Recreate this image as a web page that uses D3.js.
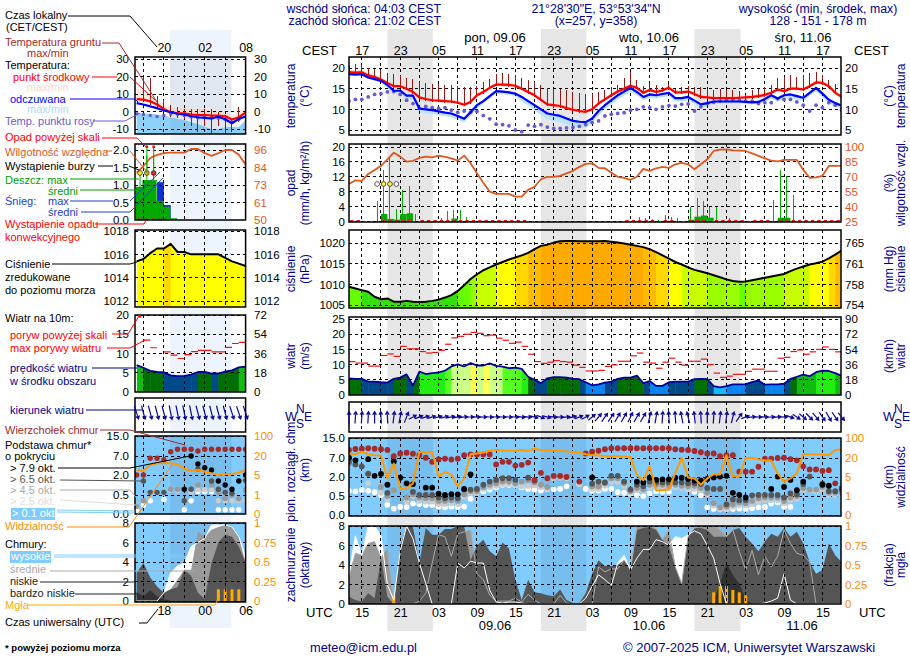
<!DOCTYPE html>
<html>
<head>
<meta charset="utf-8">
<script src="https://cdnjs.cloudflare.com/ajax/libs/d3/7.8.5/d3.min.js"></script>
<style>
body { margin: 0; background: #fff; }
text { font-family: "Liberation Sans", Arial, sans-serif; }
</style>
</head>
<body>
<div id="chart"></div>
<script>
// ---------- main meteogram data, one value per hour (h0 = 15 CEST 08.06) ----------
var tempMid = [19,18.9,19,18.2,17.8,17.2,16.4,15.6,15.6,15,
  14.2,12.9,12.5,12.2,12.1,12,11.9,11.6,11.1,11.8,
  13.4,14.2,15.2,16,16,15.9,15.7,15,14.2,13.4,
  12.3,11.2,11,10.8,10.3,9.9,9.6,9.4,10,11.4,
  12.4,13.4,14.3,15,15.7,15.2,14,14.7,14.2,14.6,
  15.2,14.1,14.1,14.3,13.7,13,12.9,12.7,12.7,12.7,
  12.7,12.8,12.9,13,13.2,13.5,14,14.8,14.4,15,
  15,14.8,15.6,16.5,16.4,15.6,14,13];
var tempFelt = [18.5,18.4,18.5,17.7,17.3,16.9,15.9,14.5,14.5,13.3,
  13.3,10.2,10,9.8,9.5,9.2,9,8.4,7.7,9.3,
  11,12,13.2,14.4,14.3,14.1,13.8,13,12,11,
  10,9,8.7,8.4,7.8,7.2,7,6.9,7.8,9.6,
  11,12.2,13.4,14.3,15.2,14.2,13,13.6,13.4,13.7,
  14,12.7,12.7,13,12.1,11.2,11.5,11.9,11.9,11.9,
  11.9,11.9,11.8,11.7,11.8,12.5,13.4,12.6,13.4,13.6,
  13.2,12.8,14,15.2,13.8,12.3,11.5,10.9];
var feltSpread = [.3,.3,.3,.3,.3,.3,.8,.8,.8,.8,
  .9,.9,.9,.9,.9,.9,.9,.9,.9,.9,
  .9,.6,.6,.6,.6,.6,.6,1.1,1.1,1.2,
  1.3,1.4,1.5,1.5,1.5,1.5,1.4,1.3,1.2,1.1,
  1,1,1,1,1,.8,.8,.8,.8,.8,
  .8,.8,.8,.8,.8,.8,.8,.5,.5,.5,
  .5,.5,.5,.5,.5,.8,.8,.8,.8,.8,
  .8,.8,.8,.8,.8,.8,.8,.8];
var soilMax = [20.5,21,20.8,20,19.7,19.4,18.8,18.5,18,17.5,
  17.3,16.5,16.4,16.2,16.1,16,15.8,15.6,15.5,15.5,
  15.6,16.5,17.3,18.5,18.8,18.6,18.3,17.5,17,16.5,
  16,15.2,15,14.8,14.6,14.2,14,13.8,13.7,14.2,
  14.6,15.3,16,17.5,19,17,15.6,16.2,16,15.4,
  16.2,15,15.3,15.6,15.3,15.3,15,14.6,14.8,14.6,
  14.6,14.4,13.5,14.6,14.8,15.4,16,17.5,17.8,18.3,
  17.8,18.3,18.7,19,18.3,17,16.2,13];
var dewPoint = [12,12.4,12.4,13,13.6,13.8,14.2,14.3,13.6,12.2,
  11.4,10.2,10.7,10.4,10.2,10.4,9.8,9.3,9.6,9.3,
  9.5,8.5,7.7,6.4,6.3,6,5,4.6,6.2,5.9,
  6.3,5.7,5.4,5.4,5.5,5.6,5.9,6.3,6.8,7.2,
  8.4,8.8,9,9.2,9.8,10,10.6,10.4,10,10.6,
  10.9,10.8,11.2,11.3,9.6,10.6,11.4,11.7,12,12.2,
  12.4,12.2,12,12,11.4,11.6,11.6,12.6,12.4,12.4,
  11.8,11,9.6,11,10.4,11.6,11,9.8];
var humidity = [62.8,66.5,65.8,72.9,76.9,81,87.6,94.3,90.3,85.3,
  86,89,90.3,89.6,91.3,90,88.6,86.3,91.3,83.6,
  73.5,64,55,52.8,52.8,52.8,50,50,56.8,60,
  67.5,70,70,71,73.5,76,80,83,83.6,79,
  78.6,74,70,69,67,70,78,76,78.6,80,
  79,82.6,84,82.6,77.6,82.6,87.6,96,97.3,97.6,
  96.6,96.3,96,93.6,91,88.6,86.3,85.6,87,87,
  87,77,69,69.5,71,81,81,81];
var rainMax = [0,0,0,0,5.4,13.8,17.4,3.3,8.5,9.4,
  2,0,0,.5,1,2.7,3,3,1.3,0,
  0,0,0,0,0,0,0,0,0,0,
  0,0,0,0,0,0,0,0,0,0,
  0,0,0,0,0,1.1,.9,.7,.5,1.7,
  1.3,1,0,3.8,6.2,5.6,3.8,3.8,0,.9,
  0,0,0,0,0,0,5.8,13.7,12.3,7,
  0,0,0,0,0,0,0,0];
var rainMean = [0,0,0,0,0,2,.7,.5,2,2.2,
  0,0,0,0,0,0,.8,0,0,0,
  0,0,0,0,0,0,0,0,0,0,
  0,0,0,0,0,0,0,0,0,0,
  0,0,0,0,0,0,0,0,0,0,
  0,0,0,.5,1.3,1.6,1,0,0,0,
  0,0,0,0,0,0,0,1,1,0,
  0,0,0,0,0,0,0,0];
var convectiveHours = [0,1,5,6,7,8,9,11,12,13,14,15,16,17,18,19,20,21,22,23,24,25,26,27,
  43,44,45,46,47,49,50,53,54,55,57,58,59,60,61,63,64,65,67,68,69,70,71,72,73,74,75,76];
var stormHours = [4,5,6,7];
var stormActive = [0,1,1,0];
var pressure = [1009.4,1009,1008.6,1008.2,1007,1006.4,1006.6,1005.8,1005.8,1006,
  1005.8,1005.7,1005.8,1006,1006.3,1006.8,1007.4,1008.4,1009.8,1011.3,
  1012.4,1013.4,1014.1,1014.8,1015.4,1016,1016.5,1017,1017.6,1018.5,
  1019.3,1019.6,1020.1,1020.4,1020.5,1020.5,1020.4,1020.4,1020.4,1020.4,
  1020.5,1020.3,1020.1,1019.9,1019.6,1019.3,1019,1018.5,1017.8,1017,
  1016.2,1015.4,1014.8,1014.1,1013.5,1013.1,1012.7,1012.2,1011.7,1011.2,
  1010.8,1010.6,1010.7,1011,1011.3,1011.6,1011.9,1012.2,1012.5,1013.2,
  1013.8,1014.3,1014.8,1015.1,1015.5,1016.3,1017.2,1018.2];
var windSpeed = [5.5,5.3,5.3,4.4,4.4,4.2,4.1,5.3,5.7,6.8,
  3.1,7.7,6.9,7.2,7.4,8,9.4,10.1,9.4,10.5,
  9.7,9.7,10.4,9.6,9.3,8.8,9,8.6,6,5,
  3.9,5.5,5.9,5.9,5.7,5.4,5.2,4.2,3.2,3.5,
  4.1,4.4,5.3,5.7,5.7,6.4,3.9,4.6,3,3,
  4.2,4.4,4.4,4.4,5.2,5.3,5.2,2.9,2.5,2.9,
  3.5,3.5,3.6,4.2,4.8,3.4,3.5,3.5,3.7,5.3,
  6,6.7,6.2,7.5,8,7.9,7.2,6.3];
var windGust = [11,10.5,10.5,9.5,9.5,13,13.5,12.7,16,15.2,
  15.2,14.3,13.8,14,14.7,16.7,18.8,19.3,20,20.6,
  20.3,19.5,19.7,18.7,18,17,17.4,16,13.4,11,
  10.4,10.8,11.3,11,10.8,9.8,9.1,7.9,7.9,8.1,
  9.4,9.9,11.1,11.1,12.9,13.8,10.8,10.5,8.8,10.8,
  12.1,10.8,9.8,11.1,11.1,11.8,10,7.2,5.8,6.2,
  6.8,6.8,7.8,8.5,8.5,7.8,7.8,12.1,12.4,14.3,
  14.8,13.4,14.2,15,15.8,15,14.2,13.9];
// direction the arrow points, degrees clockwise from up
var windDir = [0,5,5,5,0,-5,-5,10,15,30,
  70,75,78,78,80,80,82,82,85,88,
  90,90,92,92,92,92,92,95,95,100,
  105,100,95,90,85,80,75,70,60,50,
  45,45,40,40,35,40,40,20,15,5,
  -5,-5,-15,-20,-10,-5,0,5,10,10,
  20,45,75,85,90,90,88,85,90,105,
  115,120,125,130,135,140,135,130];
var n = null;
var baseTop = [10.2,10.6,10.7,10.9,10.7,10.5,10.2,7.7,8.8,9.1,
  8.7,8.1,7.1,6,6.6,6.8,6.6,6.8,8.1,8.4,
  8.4,8.4,8.4,5.3,6,6,5,5.2,5.8,1.77,
  3.1,1.9,2.3,2.3,2,n,1.64,8.8,9.5,9.9,
  10.5,10.9,10.9,10.9,10.9,10.9,10.9,10.9,10.9,10.9,
  10.9,10.5,10.3,10.2,9.8,9.3,8.8,8.8,7.7,8.1,
  8.1,3.4,3.4,3.4,4.7,6.8,6.8,7,7.1,6.7,
  6.4,4.8,4,4,3.6,3.8,1.5,1.13];
var base79 = [7.1,6.4,n,6.7,2.3,2.8,1.39,6.1,1.95,1.5,
  1.44,n,1.16,1.16,.68,.58,.65,.63,1.06,2.7,
  n,n,n,n,n,n,n,n,n,n,
  n,n,n,n,n,n,n,n,1.97,n,
  n,n,n,n,n,1.64,1.57,1.95,1.77,1.82,
  1.82,1.95,1.95,1.85,1.72,1.72,1.85,1.97,2.1,2.3,
  .75,.58,.46,n,n,n,1.06,2.1,1.21,1.77,
  .96,1.64,n,n,1.39,1.31,n,n];
var base65 = [6,5.3,4.8,2.9,n,n,.75,n,n,n,
  .83,.58,.58,.58,.46,.44,.46,.44,1.01,1.01,
  1.06,1.39,1.64,1.77,1.9,1.9,1.77,n,1.95,1.72,
  n,n,n,n,n,n,n,n,1.47,1.64,
  1.57,2.3,2.3,1.64,1.01,1.39,1.26,1.64,1.57,1.57,
  1.57,1.57,1.57,1.5,1.5,1.44,1.13,1.06,1.06,.28,
  .41,.39,.39,.55,.58,.58,.58,.58,.46,.7,
  .63,1.44,2.1,n,1.47,.88,.88,1.01];
var base45 = [5.5,n,n,2.7,n,1.21,.5,.96,n,.46,
  .63,.46,.44,.44,.37,.37,.39,.37,.63,.88,
  .88,1.21,1.39,1.5,1.64,1.64,1.5,1.64,1.77,1.57,
  1.39,1.21,2.1,2.1,2.1,n,n,n,1.26,1.26,
  1.5,1.9,1.9,1.5,.88,1.13,1.01,1.39,1.39,1.39,
  1.31,1.39,1.31,1.26,1.31,1.13,.75,.31,.2,.22,
  .28,.33,.31,.37,.44,.46,.46,.46,.37,.46,
  .5,1.13,1.01,1.01,1.21,.75,.75,.75];
var base25 = [n,n,n,1.5,n,.75,.4,n,n,.35,
  .5,.37,.35,.35,.29,.29,.31,.29,.48,.75,
  .75,1.06,1.2,1.3,1.45,1.45,1.35,1.26,1.3,1.35,
  1.2,1.06,1.9,1.95,1.9,n,1.45,n,1.06,1.06,
  1.3,1.6,1.6,1.26,.75,.96,.88,1.2,1.2,1.2,
  1.13,1.21,1.13,1.06,1.06,.96,.6,.25,.16,.18,
  .22,.26,.25,.29,.35,.39,.39,.39,.31,.39,
  .42,.96,.96,.88,1.06,.6,.6,.6];
var base01 = [.91,.86,.98,.91,.8,.58,.27,.17,.21,.21,
  .3,.29,.26,.26,.22,.2,.22,.21,.22,.43,
  .83,.86,1.01,1.19,1.39,1.39,1.34,1.19,1.06,1.01,
  .93,1.06,1.03,1.06,1.26,n,1.44,1.06,.91,.93,
  1.06,1.06,.8,.75,.7,.58,.5,.7,.88,.83,
  .83,1.21,1.39,1.06,.83,.55,.2,.16,.16,.16,
  .16,.17,.16,.18,.2,.21,.3,.33,.22,.21,
  n,n,n,n,n,n,n,n];
var visibility = [38,35,45,35,31,30,4.7,15.6,2.5,2.5,
  3.7,45,43,45,5.3,9,7,3,4.7,35,
  38,42,49,52,49,49,49,52,49,57,
  52,50,49,49,46,44,41,35,31,31,
  27,27,27,26,24,6.6,4.3,13.5,2.2,2.2,
  2.4,8,21,4.9,4.7,3.4,4.7,7.3,7,31,
  5.3,5.3,20,21,19,18,18,7.8,4,4.7,
  7.8,35,35,35,34,31,52,55];
var cloudHigh = [3,7,5,8,8,7,2,.4,5.4,8,
  6.7,4.2,2.1,0,0,0,0,4.2,3.7,4.4,
  4.2,4.2,1.4,.2,.1,.2,.2,.1,0,0,
  0,0,0,0,0,0,0,.6,1.8,3,
  2.5,1.9,4.2,5,3.5,4.7,5.6,5.6,6.6,6.4,
  6,6.9,6.7,7.1,7.5,7.2,6,4.7,2.1,0,
  0,0,0,0,0,.1,.3,.6,3.1,.4,
  0,0,0,0,0,0,0,0];
var cloudMid = [2.8,5.2,5,6.2,6.4,4.7,5.8,0,0,0,
  0,.3,1.1,4.2,7.1,6.9,4.9,7.2,7.4,7.6,
  3.1,2.5,.9,.3,.3,.3,.6,.2,1,.4,
  0,0,0,.9,.1,0,0,0,0,3.8,
  3.3,3.6,3.6,4.5,3.5,8,8,8,7.8,6.6,
  7.6,3.8,2.1,6.9,7.8,8,8,8,7.6,6.9,
  7.6,5.4,3.5,5.5,3,4.9,3.8,4.9,7.6,6.2,
  5.2,5,4.3,0,0,0,0,0];
var cloudLow = [.75,.4,.25,1.1,.6,4.7,.75,0,5.9,8,
  7.9,4.2,7.8,7.1,7.1,7.7,7.7,8,8,4.5,
  6,6.6,5.4,4.9,6.3,5.7,2.5,.4,2.5,1.2,
  1.1,.9,.8,1.5,.4,.1,.1,1.1,3.1,4.5,
  3.9,3.9,4,4.5,3.5,7.6,7.8,7.9,7.6,6.6,
  5.9,3.8,2.1,6.9,7.8,7.8,7.6,6.9,6.9,6.9,
  7.6,7.8,6.9,6.2,5.4,6.4,7.2,6.9,7.8,6.9,
  7.4,6.2,4.3,3.1,3.5,6.2,5,4.3];
var cloudVeryLow = [0,0,0,0,0,0,0,0,0,0,
  0,0,0,0,0,0,0,0,0,0,
  0,0,0,0,0,0,0,0,0,0,
  0,0,0,0,0,0,0,0,0,0,
  0,0,0,0,0,0,0,0,0,0,
  0,0,0,0,0,0,0,.2,2.2,4.2,
  3,2.1,.5,0,0,0,0,0,0,0,
  0,0,0,0,0,0,0,0];
var fogHours = [7,57,58,59,60,61,62];
var fogValues = [.1,.15,.23,.23,.18,.15,.11];

// ---------- small panel data, one value per hour (t = CEST hour, 16 .. 32) ----------
var inHours = d3.range(16, 33);
var inMid = [7.1,6.8,5.8,4,1.5,-.4,-1,-1,-1.7,-2,-2,-2.3,-2.3,-2.7,-4.6,-3.3,-.6];
var inFelt = [4.8,4,2.9,1.9,.6,-.4,-1.3,-1.7,-2.7,-3.3,-3.6,-4,-3,-4.4,-6.7,-4.2,-2.9];
var inMidMax = [13.5,10.8,8.3,6.3,4.4,2.5,2,2,1.5,1.5,1.5,.5,.5,-.5,-2.4,-.5,2.4];
var inFeltLow = [-.4,-1.3,-1.3,-1.7,-2.3,-3.3,-4.2,-4.8,-6.2,-7.1,-8.7,-10,-10,-9,-8.7,-8.7,-5.2];
var inDew = [-1.3,-1.7,-2.3,-2.9,-2.3,-1.5,-1.5,-2.3,-3,-3.6,-3.3,-3.6,-3.8,-4.5,-6,-4.5,n];
var inSoilHi = [n,19.8,19,9,6.5,3.5,2.4,1.6,1.6,1.6,1.6,1.6,0,-2,-4.2,2.6,n];
var inSoilLo = [n,6,4,1.5,0,-3,-3.5,-4.5,-8.5,-11.5,-8.5,-13,-8.5,-13,-11.5,-6,n];
var inHumidity = [80.7,85,90.5,92.7,93.8,94.2,94.2,94.2,96.7,96.7,93.8,92,93.8,96,96,92.7,86];
var inRainMean = [.95,1.14,1.14,.55,.38,.05,0,0,0,0,0,0,0,0,0,0,0];
var inRainMax = [1.45,1.85,1.85,0,0,0,0,0,0,0,0,0,0,0,0,0,0];
var inSnowMean = [0,0,0,1.08,.43,0,0,0,0,0,0,0,0,0,0,0,0];
var inStormColors = ["#ffee00", "#ffaa00", "#e02020"];
var inPressure = [1015.4,1015.6,1016.1,1016.5,1016.5,1016.9,1016.2,1016.2,1016,1016,1016,1016,1016,1015.7,1015.4,1015.2,1015];
var inWind = [7,6.3,5.5,5.2,5.1,4.3,4.1,4.2,4.5,5.2,5.2,4.8,4.8,5.3,5.6,6.4,6.6];
var inGust = [n,13.5,11.5,n,10.4,9.6,8.7,9.7,10.5,10.8,10.8,10.4,10.4,11.6,12.6,12.9,n];
var inDir = [150,155,155,155,155,160,160,160,160,155,155,155,155,155,150,150,150];
var inTop = [2,2,6.4,6.4,6,8.7,9.7,9.7,9.7,9,9.7,9.7,9.7,9.7,9.7,9.7,9.7];
var in79 = [n,n,n,n,n,n,n,.93,7,4.9,3.9,3.3,1.55,1.25,.93,1.55,2];
var in65 = [n,1.55,.7,.7,.7,n,n,.35,.93,3.6,n,1.55,.93,.7,.63,n,1.6];
var in45 = [.2,.35,n,n,n,.93,.93,n,n,1.25,n,1.25,.7,.41,.5,.4,.88];
var in25 = [n,n,n,n,n,.88,.8,n,.7,.9,.9,.9,.35,.35,.35,.35,.36];
var in01 = [.1,.23,.35,n,.38,n,n,.11,.35,.75,.75,.75,.11,.11,.11,.11,n];
var inVis = [9,8.4,12.9,14.2,14.2,14.2,13.4,10,8.4,9,7.6,6.3,5,5.5,5.8,6.8,9];
var inHigh = [0,0,0,0,.85,2.9,3.6,3.9,5.6,6,6.4,7.8,7.8,7.8,7.6,6.6,4.6];
var inMidCloud = [0,0,0,0,.5,1.2,2.2,3.2,3.2,7.1,6.6,7.3,7.6,7.8,7.6,6.6,3.9];
var inLow = [2.9,3.9,2.4,1.5,.85,1.2,1.4,3.2,2.6,.85,.2,3.9,6,6.8,6.6,5.6,3.9];
var inVeryLow = [.9,.5,1.1,.5,.2,0,0,0,0,0,0,0,0,0,0,0,0];
var inFogHours = [28,29,30,31];
var inFogValues = [.15,.15,.15,.15];

// ---------- tick labels ----------
var mainHourTicks = d3.range(2, 75, 6);
var localLabels = ["17","23","05","11","17","23","05","11","17","23","05","11","17"];
var utcLabels = ["15","21","03","09","15","21","03","09","15","21","03","09","15"];
var nightSpans = [[6, 13.1], [30, 37.1], [54, 61.2]];

var hours = d3.range(78);
var svg = d3.select("#chart").append("svg").attr("width", 910).attr("height", 660);

var NAVY = "#00008b", ORANGE = "#ff8c00", RHCOL = "#e2571e", SKY = "#80ccff";
var xMain = d3.scaleLinear().domain([0, 76.9]).range([349, 841]);
var xIn = d3.scaleLinear().domain([15.76, 32]).range([135, 245.6]);

// night shading behind everything
nightSpans.forEach(function(s) {
  svg.append("rect").attr("x", xMain(s[0])).attr("width", xMain(s[1]) - xMain(s[0]))
    .attr("y", 29).attr("height", 602).attr("fill", "#e6e6e6");
});
svg.append("rect").attr("x", 170).attr("width", 61.5).attr("y", 30).attr("height", 598).attr("fill", "#eef4fd");

var clipCount = 0;

// opens a panel: clipped group plus the box limits
function openPanel(x, top, bottom) {
  var id = "clip" + (clipCount++);
  svg.append("clipPath").attr("id", id).append("rect")
    .attr("x", x.range()[0]).attr("y", top)
    .attr("width", x.range()[1] - x.range()[0]).attr("height", bottom - top);
  var g = svg.append("g").attr("clip-path", "url(#" + id + ")");
  return { g: g, x: x, top: top, bottom: bottom, left: x.range()[0], right: x.range()[1] };
}

function drawGrid(p, y, yTicks, xTicks) {
  yTicks.forEach(function(v) {
    p.g.append("line").attr("x1", p.left).attr("x2", p.right).attr("y1", y(v)).attr("y2", y(v))
      .attr("stroke", "#000").attr("stroke-dasharray", "3,3").attr("shape-rendering", "crispEdges");
  });
  xTicks.forEach(function(v) {
    p.g.append("line").attr("x1", p.x(v)).attr("x2", p.x(v)).attr("y1", p.top).attr("y2", p.bottom)
      .attr("stroke", "#000").attr("stroke-dasharray", "3,3").attr("shape-rendering", "crispEdges");
  });
}

function frame(p) {
  svg.append("rect").attr("x", p.left).attr("y", p.top).attr("width", p.right - p.left).attr("height", p.bottom - p.top)
    .attr("fill", "none").attr("stroke", "#000").attr("stroke-width", 1.5);
}

function tickAxis(axis, px, ticks, color, fmt, size) {
  axis.tickValues(ticks).tickSize(0).tickPadding(0).tickFormat(fmt || String);
  var ag = svg.append("g").attr("transform", "translate(" + px + ",0)").call(axis);
  ag.select(".domain").remove();
  ag.selectAll("text").attr("fill", color).style("font-size", (size || 11.5) + "px")
    .style("font-family", '"Liberation Sans", Arial, sans-serif');
}

function lineOf(x, y, xs) {
  return d3.line().defined(function(d) { return d !== null; })
    .x(function(d, i) { return x(xs[i]); }).y(function(d) { return y(d); });
}

function areaOf(x, xs, y0, y1) {
  return d3.area().x(function(d, i) { return x(xs[i]); }).y0(y0).y1(y1);
}

function addLine(p, y, xs, vals, color, width) {
  p.g.append("path").attr("d", lineOf(p.x, y, xs)(vals)).attr("fill", "none")
    .attr("stroke", color).attr("stroke-width", width).attr("stroke-linejoin", "round");
}

function addFill(p, y, xs, vals, color) {
  p.g.append("path").attr("d", areaOf(p.x, xs, p.bottom, function(d) { return y(d); })(vals)).attr("fill", color);
}

// hour by hour coloured columns cut to the shape under the curve
function stepFill(p, y, xs, vals, colorOf) {
  var id = "clip" + (clipCount++);
  svg.append("clipPath").attr("id", id).append("path")
    .attr("d", areaOf(p.x, xs, p.bottom, function(d) { return y(d); })(vals));
  var cut = p.g.append("g").attr("clip-path", "url(#" + id + ")");
  cut.selectAll("rect").data(vals.slice(0, -1)).enter().append("rect")
    .attr("x", function(d, i) { return p.x(xs[i]); })
    .attr("width", function(d, i) { return p.x(xs[i + 1]) - p.x(xs[i]) + .5; })
    .attr("y", p.top).attr("height", p.bottom - p.top)
    .attr("fill", function(d, i) { return colorOf((d + vals[i + 1]) / 2); });
}

function addDots(p, y, xs, vals, color, r) {
  p.g.selectAll(null).data(vals.map(function(d, i) { return [xs[i], d]; }).filter(function(d) { return d[1] !== null; }))
    .enter().append("circle")
    .attr("cx", function(d) { return p.x(d[0]); }).attr("cy", function(d) { return y(d[1]); })
    .attr("r", r).attr("fill", color);
}

function addGustDashes(p, y, xs, vals) {
  p.g.selectAll(null).data(vals.map(function(d, i) { return [xs[i], d]; }).filter(function(d) { return d[1] !== null; }))
    .enter().append("line")
    .attr("x1", function(d) { return p.x(d[0]); }).attr("x2", function(d) { return p.x(d[0] + 1); })
    .attr("y1", function(d) { return y(d[1]); }).attr("y2", function(d) { return y(d[1]); })
    .attr("stroke", "#f01010").attr("stroke-width", 1.2);
}

function addArrows(p, xs, dirs, cy, hx, hy) {
  dirs.forEach(function(a, i) {
    var r = a * Math.PI / 180;
    var dx = Math.sin(r) * hx, dy = -Math.cos(r) * hy;
    var px = p.x(xs[i]);
    var ang = Math.atan2(dy, dx), s = 4.2, w = 2.5;
    var tx = px + dx, ty = cy + dy;
    var bx = tx - Math.cos(ang) * s, by = ty - Math.sin(ang) * s;
    var nx = -Math.sin(ang) * w, ny = Math.cos(ang) * w;
    svg.append("line").attr("x1", px - dx).attr("y1", cy - dy).attr("x2", bx).attr("y2", by)
      .attr("stroke", "#0a0a9a").attr("stroke-width", 1.2);
    svg.append("path").attr("fill", "#0a0a9a")
      .attr("d", "M" + tx + "," + ty + "L" + (bx + nx) + "," + (by + ny) + "L" + (bx - nx) + "," + (by - ny) + "Z");
  });
}

function addSky(p) {
  p.g.append("rect").attr("x", p.left).attr("y", p.top).attr("width", p.right - p.left).attr("height", p.bottom - p.top).attr("fill", SKY);
}

function addNightTint(p, spans) {
  spans.forEach(function(s) {
    p.g.append("rect").attr("x", s[0]).attr("width", s[1] - s[0]).attr("y", p.top).attr("height", p.bottom - p.top)
      .attr("fill", "#000").attr("opacity", .07);
  });
}

var pressureColor = d3.scaleThreshold()
  .domain([1008.5, 1010.7, 1012.5, 1014.7, 1016.6, 1017.5, 1019])
  .range(["#33e00e", "#66ff00", "#99ff00", "#c8ff00", "#ffff00", "#ffd800", "#ffbb00", "#ffaa00"]);
var windColor = d3.scaleThreshold()
  .domain([2.8, 3.9, 5, 6.3, 7, 8.3, 9.2, 10.05])
  .range(["#14b8ff", "#0a84f0", "#004a8a", "#006e00", "#11bb11", "#22ee11", "#55ff22", "#ccff88", "#ffff55"]);

var mainSpansPx = nightSpans.map(function(s) { return [xMain(s[0]), xMain(s[1])]; });
var mainGridX = d3.range(2, 75, 3);
var inGridX = d3.range(17, 33, 3);

// ---------- main: temperature ----------
(function() {
  var p = openPanel(xMain, 57, 135);
  var ticks = [5, 10, 15, 20];
  var y = d3.scaleLinear().domain([5, 20]).range([130, 68]);
  p.g.append("path").attr("fill", "#ffd9cc").attr("d", d3.area().x(function(d, i) { return xMain(i); })
    .y0(function(d) { return y(d - .4); }).y1(function(d) { return y(d + .5); })(tempMid));
  p.g.append("path").attr("fill", "#b8e4ff").attr("d", d3.area().x(function(d, i) { return xMain(i); })
    .y0(function(d, i) { return y(d - feltSpread[i]); }).y1(function(d) { return y(d + .3); })(tempFelt));
  drawGrid(p, y, ticks, mainGridX);
  p.g.selectAll(null).data(soilMax).enter().append("line")
    .attr("x1", function(d, i) { return xMain(i); }).attr("x2", function(d, i) { return xMain(i); })
    .attr("y1", function(d) { return y(d); }).attr("y2", function(d, i) { return y(tempMid[i] - .4); })
    .attr("stroke", "#981818").attr("shape-rendering", "crispEdges");
  addDots(p, y, hours, dewPoint, "#6a5acd", 1.9);
  addLine(p, y, hours, tempMid, "#ff0000", 2.2);
  addLine(p, y, hours, tempFelt, "#0000ff", 2.2);
  frame(p);
  tickAxis(d3.axisLeft(y), 345, ticks, "#000");
  tickAxis(d3.axisRight(y), 845, ticks, "#000");
})();

// ---------- main: rain and humidity ----------
(function() {
  var p = openPanel(xMain, 144, 222);
  var ticks = [0, 4, 8, 12, 16, 20];
  var y = d3.scaleLinear().domain([0, 20]).range([221.5, 147]);
  var rh = d3.scaleLinear().domain([25, 100]).range([221.5, 147]);
  drawGrid(p, y, ticks, mainGridX);
  p.g.selectAll(null).data(rainMean).enter().append("rect")
    .attr("x", function(d, i) { return xMain(i); }).attr("width", 6.4)
    .attr("y", function(d) { return y(d); }).attr("height", function(d) { return y(0) - y(d); })
    .attr("fill", "#00a800");
  p.g.selectAll(null).data(rainMax).enter().append("line")
    .attr("x1", function(d, i) { return xMain(i + .4); }).attr("x2", function(d, i) { return xMain(i + .4); })
    .attr("y1", function(d) { return y(d); }).attr("y2", y(0)).attr("stroke", "#00b000").attr("shape-rendering", "crispEdges");
  p.g.selectAll(null).data(convectiveHours).enter().append("rect")
    .attr("x", function(d) { return xMain(d + .2); }).attr("width", 3.2).attr("y", 220).attr("height", 2)
    .attr("fill", "#f01010");
  addLine(p, rh, hours, humidity, RHCOL, 1.8);
  p.g.selectAll(null).data(stormHours).enter().append("circle")
    .attr("cx", function(d) { return xMain(d + .4); }).attr("cy", 184).attr("r", 2.4)
    .attr("fill", function(d, i) { return stormActive[i] ? "#ffee33" : "#fff"; })
    .attr("stroke", "#333").attr("stroke-width", .8);
  frame(p);
  tickAxis(d3.axisLeft(y), 345, ticks, "#000");
  tickAxis(d3.axisRight(rh), 845, [25, 40, 55, 70, 85, 100], RHCOL);
})();

// ---------- main: pressure ----------
(function() {
  var p = openPanel(xMain, 230, 308);
  var ticks = [1005, 1010, 1015, 1020];
  var y = d3.scaleLinear().domain([1005, 1020]).range([305, 243]);
  var hg = d3.scaleLinear().domain([754, 758, 761, 765]).range(ticks.map(y));
  stepFill(p, y, hours, pressure, pressureColor);
  drawGrid(p, y, ticks, mainGridX);
  addLine(p, y, hours, pressure, "#000", 2);
  frame(p);
  tickAxis(d3.axisLeft(y), 345, ticks, "#000");
  tickAxis(d3.axisRight(hg), 845, [754, 758, 761, 765], "#000");
})();

// ---------- main: wind ----------
(function() {
  var p = openPanel(xMain, 317, 395);
  var ticks = [0, 5, 10, 15, 20, 25];
  var y = d3.scaleLinear().domain([0, 25]).range([395, 319]);
  var kmh = d3.scaleLinear().domain([0, 90]).range([395, 319]);
  stepFill(p, y, hours, windSpeed, windColor);
  drawGrid(p, y, ticks, mainGridX);
  addGustDashes(p, y, hours, windGust);
  addLine(p, y, hours, windSpeed, "#000099", 1.8);
  frame(p);
  tickAxis(d3.axisLeft(y), 345, ticks, "#000");
  tickAxis(d3.axisRight(kmh), 845, [0, 18, 36, 54, 72, 90], "#000");
})();

// ---------- main: wind direction ----------
(function() {
  var p = openPanel(xMain, 402, 432);
  drawGrid(p, d3.scaleLinear(), [], mainGridX);
  frame(p);
  addArrows(p, hours, windDir, 417, 4.5, 6.5);
})();

var baseDomain = [0, .5, 2, 7, 15], visDomain = [0, 1, 5, 20, 100];

// ---------- main: cloud base ----------
(function() {
  var p = openPanel(xMain, 438, 516);
  var range = [515, 496, 477, 458, 438];
  var y = d3.scaleLinear().domain(baseDomain).range(range);
  var vis = d3.scaleLinear().domain(visDomain).range(range);
  addSky(p);
  addNightTint(p, mainSpansPx);
  drawGrid(p, y, baseDomain, mainGridX);
  addDots(p, y, hours, base01, "#fff", 2.9);
  addDots(p, y, hours, base25, "#cccccc", 2.9);
  addDots(p, y, hours, base45, "#999999", 2.9);
  addDots(p, y, hours, base65, "#555555", 2.9);
  addDots(p, y, hours, base79, "#000", 2.9);
  addDots(p, y, hours, baseTop, "#a52a2a", 2.9);
  addLine(p, vis, hours, visibility, "#ff9900", 2);
  frame(p);
  tickAxis(d3.axisLeft(y), 345, baseDomain, "#000", d3.format(".1f"));
  tickAxis(d3.axisRight(vis), 845, visDomain, ORANGE);
})();

// ---------- main: cloud cover and fog ----------
(function() {
  var p = openPanel(xMain, 526, 604);
  var ticks = [0, 2, 4, 6, 8];
  var y = d3.scaleLinear().domain([0, 8]).range([604, 526]);
  var fog = d3.scaleLinear().domain([0, 1]).range([604, 526]);
  addSky(p);
  addNightTint(p, mainSpansPx);
  addFill(p, y, hours, cloudHigh, "#fff");
  addFill(p, y, hours, cloudMid, "#999999");
  addFill(p, y, hours, cloudLow, "#555555");
  addFill(p, y, hours, cloudVeryLow, "#333333");
  p.g.selectAll(null).data(fogValues).enter().append("rect")
    .attr("x", function(d, i) { return xMain(fogHours[i]) - 1.5; }).attr("width", 3)
    .attr("y", function(d) { return fog(d); }).attr("height", function(d) { return fog(0) - fog(d); })
    .attr("fill", "#ffaa00");
  addLine(p, y, hours, cloudMid, "#aaaaaa", 1);
  addLine(p, y, hours, cloudHigh, "#fff", 1);
  drawGrid(p, y, ticks, mainGridX);
  frame(p);
  tickAxis(d3.axisLeft(y), 345, ticks, "#000");
  tickAxis(d3.axisRight(fog), 845, [0, .25, .5, .75, 1], ORANGE);
})();

// ---------- small: temperature ----------
var inRightPx = 254, inLeftPx = 129, inNight = [[170, 231.5]];
(function() {
  var p = openPanel(xIn, 57, 134);
  var ticks = [-10, 0, 10, 20, 30];
  var y = d3.scaleLinear().domain([-10, 30]).range([129, 59]);
  p.g.append("path").attr("fill", "#ffe6da").attr("d", d3.area().x(function(d, i) { return xIn(inHours[i]); })
    .y0(function(d) { return y(d - 1); }).y1(function(d, i) { return y(inMidMax[i]); })(inMid));
  addFill(p, y, inHours, inFeltLow, "#8dd2fb");
  p.g.append("rect").attr("x", 170).attr("width", 61.5).attr("y", 57).attr("height", 77).attr("fill", "#000").attr("opacity", .05);
  drawGrid(p, y, ticks, inGridX);
  inSoilHi.forEach(function(v, i) {
    if (v === null) return;
    p.g.append("line").attr("x1", xIn(inHours[i])).attr("x2", xIn(inHours[i]))
      .attr("y1", y(v)).attr("y2", y(inSoilLo[i])).attr("stroke", "#981818").attr("shape-rendering", "crispEdges");
  });
  inDew.forEach(function(v, i) {
    if (v === null) return;
    p.g.append("rect").attr("x", xIn(inHours[i]) - 1.5).attr("y", y(v) - 1.5)
      .attr("width", 3).attr("height", 3).attr("fill", "#6a5acd");
  });
  addLine(p, y, inHours, inMid, "#ff0000", 2.2);
  addLine(p, y, inHours, inFelt, "#0000ff", 2.2);
  frame(p);
  tickAxis(d3.axisLeft(y), inLeftPx, ticks, "#000");
  tickAxis(d3.axisRight(y), inRightPx, ticks, "#000");
})();

// ---------- small: rain and humidity ----------
(function() {
  var p = openPanel(xIn, 144, 220);
  var ticks = [0, .5, 1, 1.5, 2];
  var y = d3.scaleLinear().domain([0, 2]).range([220, 150]);
  var rh = d3.scaleLinear().domain([50, 61, 73, 84, 96]).range(ticks.map(y));
  inSnowMean.forEach(function(v, i) {
    p.g.append("rect").attr("x", xIn(inHours[i])).attr("width", 6.83).attr("y", y(v)).attr("height", y(0) - y(v)).attr("fill", "#1030d0");
  });
  inRainMean.forEach(function(v, i) {
    p.g.append("rect").attr("x", xIn(inHours[i]) - 1).attr("width", 7.4).attr("y", y(v)).attr("height", y(0) - y(v)).attr("fill", "#00a800");
  });
  inRainMax.forEach(function(v, i) {
    p.g.append("line").attr("x1", xIn(inHours[i] + .5)).attr("x2", xIn(inHours[i] + .5)).attr("y1", y(v)).attr("y2", y(0)).attr("stroke", "#00b000");
  });
  drawGrid(p, y, ticks, inGridX);
  addLine(p, rh, inHours, inHumidity, RHCOL, 1.8);
  [16, 17, 18].forEach(function(t, i) {
    p.g.append("circle").attr("cx", xIn(t + .5)).attr("cy", 173).attr("r", 2.4)
      .attr("fill", inStormColors[i]).attr("stroke", "#333").attr("stroke-width", .8);
  });
  [17, 18].forEach(function(t) {
    p.g.append("rect").attr("x", xIn(t + .5) - 1.3).attr("y", 145.5).attr("width", 2.6).attr("height", 2.6).attr("fill", "#f01010");
    p.g.append("line").attr("x1", xIn(t + .5)).attr("x2", xIn(t + .5)).attr("y1", 148).attr("y2", 173).attr("stroke", "#00b000");
  });
  [16, 17, 18, 19].forEach(function(t) {
    p.g.append("rect").attr("x", xIn(t + .2)).attr("width", 3.2).attr("y", 218.5).attr("height", 1.5).attr("fill", "#f01010");
  });
  frame(p);
  tickAxis(d3.axisLeft(y), inLeftPx, ticks, "#000", d3.format(".1f"));
  tickAxis(d3.axisRight(rh), inRightPx, [50, 61, 73, 84, 96], RHCOL);
})();

// ---------- small: pressure ----------
(function() {
  var p = openPanel(xIn, 230, 307);
  var ticks = [1012, 1014, 1016, 1018];
  var y = d3.scaleLinear().domain([1012, 1018]).range([301, 231]);
  stepFill(p, y, inHours, inPressure, pressureColor);
  drawGrid(p, y, ticks, inGridX);
  addLine(p, y, inHours, inPressure, "#000", 2);
  frame(p);
  tickAxis(d3.axisLeft(y), inLeftPx, ticks, "#000");
  tickAxis(d3.axisRight(y), inRightPx, ticks, "#000");
})();

// ---------- small: wind ----------
(function() {
  var p = openPanel(xIn, 315, 392);
  var ticks = [0, 5, 10, 15, 20];
  var y = d3.scaleLinear().domain([0, 20]).range([392, 315]);
  var kmh = d3.scaleLinear().domain([0, 72]).range([392, 315]);
  stepFill(p, y, inHours, inWind, windColor);
  drawGrid(p, y, ticks, inGridX);
  addGustDashes(p, y, inHours, inGust);
  addLine(p, y, inHours, inWind, "#000099", 1.8);
  frame(p);
  svg.append("rect").attr("x", xIn(16.5) - 1.3).attr("y", 315).attr("width", 2.6).attr("height", 2.6).attr("fill", "#f01010");
  tickAxis(d3.axisLeft(y), inLeftPx, ticks, "#000");
  tickAxis(d3.axisRight(kmh), inRightPx, [0, 18, 36, 54, 72], "#000");
})();

// ---------- small: wind direction ----------
(function() {
  var p = openPanel(xIn, 398, 432);
  drawGrid(p, d3.scaleLinear(), [], inGridX);
  frame(p);
  addArrows(p, inHours, inDir, 413, 4.5, 8);
})();

// ---------- small: cloud base ----------
(function() {
  var p = openPanel(xIn, 436, 514);
  var range = [514, 495, 475, 456, 436];
  var y = d3.scaleLinear().domain(baseDomain).range(range);
  var vis = d3.scaleLinear().domain(visDomain).range(range);
  addSky(p);
  addNightTint(p, inNight);
  drawGrid(p, y, baseDomain, inGridX);
  addDots(p, y, inHours, in01, "#fff", 2.7);
  addDots(p, y, inHours, in25, "#cccccc", 2.7);
  addDots(p, y, inHours, in45, "#999999", 2.7);
  addDots(p, y, inHours, in65, "#555555", 2.7);
  addDots(p, y, inHours, in79, "#000", 2.7);
  addDots(p, y, inHours, inTop, "#a52a2a", 2.7);
  addLine(p, vis, inHours, inVis, "#ff9900", 2);
  frame(p);
  tickAxis(d3.axisLeft(y), inLeftPx, baseDomain, "#000", d3.format(".1f"));
  tickAxis(d3.axisRight(vis), inRightPx, visDomain, ORANGE);
})();

// ---------- small: cloud cover and fog ----------
(function() {
  var p = openPanel(xIn, 523, 602);
  var ticks = [0, 2, 4, 6, 8];
  var y = d3.scaleLinear().domain([0, 8]).range([601, 523]);
  var fog = d3.scaleLinear().domain([0, 1]).range([601, 523]);
  addSky(p);
  addNightTint(p, inNight);
  addFill(p, y, inHours, inHigh, "#fff");
  addFill(p, y, inHours, inMidCloud, "#999999");
  addFill(p, y, inHours, inLow, "#555555");
  addFill(p, y, inHours, inVeryLow, "#333333");
  p.g.selectAll(null).data(inFogValues).enter().append("rect")
    .attr("x", function(d, i) { return xIn(inFogHours[i]) - 1.5; }).attr("width", 3)
    .attr("y", function(d) { return fog(d); }).attr("height", function(d) { return fog(0) - fog(d); })
    .attr("fill", "#ffaa00");
  addLine(p, y, inHours, inHigh, "#fff", 1);
  drawGrid(p, y, ticks, inGridX);
  frame(p);
  tickAxis(d3.axisLeft(y), inLeftPx, ticks, "#000");
  tickAxis(d3.axisRight(fog), inRightPx, [0, .25, .5, .75, 1], ORANGE);
})();

// ---------- hour axes ----------
function hourAxis(axisFn, x, ticks, labels, py) {
  var ax = axisFn(x).tickValues(ticks).tickSize(0).tickPadding(0)
    .tickFormat(function(d, i) { return labels[i]; });
  var ag = svg.append("g").attr("transform", "translate(0," + py + ")").call(ax);
  ag.select(".domain").remove();
  ag.selectAll("text").attr("fill", "#000").style("font-size", "12.5px")
    .style("font-family", '"Liberation Sans", Arial, sans-serif');
}
hourAxis(d3.axisTop, xMain, mainHourTicks, localLabels, 55);
hourAxis(d3.axisBottom, xMain, mainHourTicks, utcLabels, 608);
hourAxis(d3.axisTop, xIn, [20, 26, 32], ["20", "02", "08"], 52);
hourAxis(d3.axisBottom, xIn, [20, 26, 32], ["18", "00", "06"], 606);

// ---------- text ----------
function label(t, x, y, color, opts) {
  opts = opts || {};
  return svg.append("text").attr("x", x).attr("y", y).attr("fill", color || "#000")
    .attr("text-anchor", opts.anchor || "start").attr("font-size", opts.size || 11)
    .attr("font-weight", opts.weight || "normal").text(t);
}
function vlabel(t, x, cy, size) {
  svg.append("text").attr("transform", "translate(" + x + "," + cy + ") rotate(-90)")
    .attr("text-anchor", "middle").attr("fill", NAVY).attr("font-size", size || 12).text(t);
}

var headerTexts = [
  ["wschód słońca: 04:03 CEST", 441, 13, "end"], ["zachód słońca: 21:02 CEST", 441, 25, "end"],
  ["21°28'30\"E, 53°53'34\"N", 596, 13, "middle"], ["(x=257,  y=358)", 596, 25, "middle"],
  ["wysokość (min, środek, max)", 818, 13, "middle"], ["128 - 151 - 178 m", 818, 25, "middle"]
];
headerTexts.forEach(function(d) { label(d[0], d[1], d[2], NAVY, { anchor: d[3], size: 12.3 }); });

[["pon, 09.06", 495], ["wto, 10.06", 649], ["śro, 11.06", 803]].forEach(function(d) {
  label(d[0], d[1], 42, "#000", { anchor: "middle", size: 13 });
});
[["09.06", 495], ["10.06", 649], ["11.06", 802]].forEach(function(d) {
  label(d[0], d[1], 630, "#000", { anchor: "middle", size: 13 });
});
label("CEST", 302, 55, "#000", { size: 13 }); label("CEST", 854, 55, "#000", { size: 13 });
label("UTC", 306, 617, "#000", { size: 13 }); label("UTC", 859, 617, "#000", { size: 13 });
label("meteo@icm.edu.pl", 310, 652, NAVY, { size: 12.8 });
label("© 2007-2025 ICM, Uniwersytet Warszawski", 623, 652, NAVY, { size: 13.1 });

var sideLabels = [
  ["temperatura", 295, 96], ["(°C)", 309, 96], ["(°C)", 893, 96], ["temperatura", 905, 96],
  ["opad", 295, 183], ["(mm/h, kg/m²/h)", 309, 183], ["(%)", 893, 183], ["wilgotność wzgl.", 905, 183],
  ["ciśnienie", 295, 269], ["(hPa)", 309, 269], ["(mm Hg)", 893, 269], ["ciśnienie", 905, 269],
  ["wiatr", 295, 356], ["(m/s)", 309, 356], ["(km/h)", 893, 356], ["wiatr", 905, 356],
  ["pion. rozciągł. chm.", 295, 470], ["(km)", 309, 470], ["(km)", 893, 477], ["widzialność", 905, 477],
  ["zachmurzenie", 295, 565], ["(oktanty)", 309, 565], ["(frakcja)", 893, 565], ["mgła", 905, 565]
];
sideLabels.forEach(function(d) { vlabel(d[0], d[1], d[2]); });

// compass letters at both sides of the direction panel
[285, 883].forEach(function(ox) {
  label("W", ox, 421, NAVY, { size: 13 });
  label("N", ox + 11, 413, NAVY, { size: 12 });
  label("E", ox + 19, 421, NAVY, { size: 12 });
  label("S", ox + 11, 428, NAVY, { size: 12 });
});

// ---------- legend on the left ----------
var legendTexts = [
  ["Czas lokalny", 5, 19, "#000"], ["(CET/CEST)", 6, 31, "#000"],
  ["Temperatura gruntu", 5, 46, "#a52a2a"], ["max/min", 27, 57, "#a52a2a"],
  ["Temperatura:", 5, 69, "#000"], ["punkt środkowy", 13, 81, "#ff0000"], ["max/min", 27, 91, "#ffd8c8"],
  ["odczuwana", 10, 103, "#0000ff"], ["max/min", 27, 113, "#a8dcff"],
  ["Temp. punktu rosy", 5, 125, "#6a5acd"],
  ["Opad powyżej skali", 5, 141, "#ff0000"], ["Wilgotność względna", 5, 156, RHCOL],
  ["Wystąpienie burzy", 5, 170, "#000"], ["Deszcz: max", 5, 184, "#00a000"], ["średni", 48, 195, "#00a000"],
  ["Śnieg:", 5, 205, "#2040d0"], ["max", 48, 205, "#2040d0"], ["średni", 48, 216, "#2040d0"],
  ["Wystąpienie opadu", 5, 228, "#ff0000"], ["konwekcyjnego", 5, 241, "#ff0000"],
  ["Ciśnienie", 5, 268, "#000"], ["zredukowane", 5, 281, "#000"], ["do poziomu morza", 5, 294, "#000"],
  ["Wiatr na 10m:", 5, 322, "#000"], ["poryw powyżej skali", 10, 339, "#ff0000"], ["max porywy wiatru", 10, 352, "#ff0000"],
  ["prędkość wiatru", 10, 372, NAVY], ["w środku obszaru", 10, 385, NAVY], ["kierunek wiatru", 10, 414, NAVY],
  ["Wierzchołek chmur", 5, 434, "#a52a2a"], ["Podstawa chmur*", 5, 449, "#000"], ["o pokryciu", 5, 460, "#000"],
  ["> 7.9 okt.", 10, 472, "#000"], ["> 6.5 okt.", 10, 483, "#555"], ["> 4.5 okt.", 10, 494, "#aaa"], ["> 2.5 okt.", 10, 505, "#ddd"],
  ["Widzialność", 5, 530, ORANGE], ["Chmury:", 5, 548, "#000"],
  ["średnie", 10, 573, "#aaa"], ["niskie", 10, 585, "#222"], ["bardzo niskie", 10, 597, "#222"], ["Mgła", 5, 609, "#ffaa00"],
  ["Czas uniwersalny (UTC)", 5, 626, "#000"]
];
svg.append("rect").attr("x", 11).attr("y", 508).attr("width", 44).attr("height", 12).attr("fill", SKY);
svg.append("rect").attr("x", 10).attr("y", 551).attr("width", 41).attr("height", 12).attr("fill", SKY);
legendTexts.push(["> 0.1 okt.", 12, 517, "#fff"], ["wysokie", 11, 560, "#fff"]);
legendTexts.forEach(function(d) { label(d[0], d[1], d[2], d[3]); });
label("* powyżej poziomu morza", 5, 651, "#000", { size: 9.5, weight: "bold" });

// leader lines from the legend to the charts
var leaders = [
  [[[68,16],[130,16],[157,47]], "#000"],
  [[[102,43],[119,43],[157,102]], "#a52a2a"],
  [[[92,77],[117,77]], "#ff0000"], [[[130,77],[155,100]], "#ff0000"],
  [[[70,99],[135,99],[138,102]], "#0000ff"],
  [[[93,121],[125,121],[140,113]], "#6a5acd"],
  [[[102,138],[137,138],[146,147]], "#ff0000"],
  [[[106,151],[112,151]], RHCOL], [[[130,151],[147,172]], RHCOL],
  [[[98,166],[113,166]], "#000"], [[[129,166],[139,170]], "#000"],
  [[[70,179],[139,179]], "#00a000"], [[[80,190],[140,190]], "#00a000"],
  [[[70,201],[113,201]], "#2040d0"], [[[130,201],[160,172]], "#2040d0"],
  [[[81,212],[130,212],[163,178]], "#2040d0"],
  [[[95,224],[144,224],[146,220]], "#ff0000"],
  [[[52,264],[130,264],[137,262]], "#000"],
  [[[112,334],[128,334],[139,316]], "#ff0000"], [[[107,348],[130,348],[145,340]], "#ff0000"],
  [[[92,368],[137,368]], NAVY], [[[86,410],[142,410]], NAVY],
  [[[100,430],[130,430],[185,445]], "#a52a2a"],
  [[[58,468],[130,468],[190,456]], "#000"], [[[60,480],[143,481]], "#555"],
  [[[60,490],[130,490],[140,502]], "#aaa"], [[[60,500],[136,505]], "#ddd"],
  [[[57,510],[135,511]], SKY], [[[57,512],[135,513]], SKY],
  [[[67,527],[129,527],[172,465]], ORANGE],
  [[[54,555],[185,555]], SKY], [[[54,557],[185,557]], SKY],
  [[[50,571],[195,571]], "#aaa"], [[[40,582],[135,582]], "#222"], [[[75,594],[138,594]], "#222"],
  [[[28,605],[215,605],[220,595]], "#ffaa00"],
  [[[139,623],[147,623],[158,609]], "#000"]
];
var leaderLine = d3.line();
leaders.forEach(function(d) {
  svg.append("path").attr("d", leaderLine(d[0])).attr("fill", "none").attr("stroke", d[1]);
});
</script>
</body>
</html>
